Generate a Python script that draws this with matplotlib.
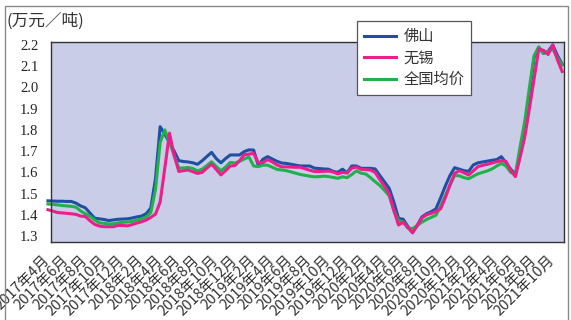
import matplotlib
matplotlib.use("Agg")
import matplotlib.pyplot as plt
from matplotlib.patches import Rectangle

plt.rcParams['font.family'] = ['Noto Sans CJK SC', 'DejaVu Sans']

# half-monthly prices, 万元/吨, starting late March 2017
foshan = [
    1.466, 1.465, 1.464, 1.464, 1.463, 1.463, 1.455, 1.442, 1.433, 1.408,
    1.384, 1.381, 1.378, 1.373, 1.376, 1.379, 1.380, 1.381, 1.385, 1.390,
    1.394, 1.405, 1.432, 1.570, 1.815, 1.780, 1.740, 1.700, 1.655, 1.651,
    1.649, 1.645, 1.638, 1.655, 1.675, 1.694, 1.665, 1.645, 1.665, 1.682,
    1.682, 1.682, 1.698, 1.706, 1.705, 1.633, 1.662, 1.674, 1.663, 1.652,
    1.644, 1.642, 1.638, 1.634, 1.630, 1.630, 1.630, 1.620, 1.618, 1.616,
    1.615, 1.605, 1.600, 1.615, 1.598, 1.630, 1.630, 1.619, 1.619, 1.619,
    1.616, 1.585, 1.555, 1.525, 1.460, 1.383, 1.379, 1.345, 1.318, 1.350,
    1.390, 1.405, 1.415, 1.428, 1.480, 1.535, 1.585, 1.622, 1.615, 1.608,
    1.605, 1.635, 1.645, 1.649, 1.653, 1.657, 1.660, 1.674, 1.645, 1.615,
    1.590, 1.690, 1.799, 1.970, 2.140, 2.190, 2.160, 2.170, 2.200, 2.150,
    2.110,
]
wuxi = [
    1.424, 1.418, 1.411, 1.409, 1.407, 1.405, 1.402, 1.394, 1.392, 1.372,
    1.355, 1.347, 1.344, 1.344, 1.344, 1.350, 1.350, 1.348, 1.354, 1.361,
    1.367, 1.375, 1.388, 1.403, 1.460, 1.620, 1.785, 1.680, 1.604, 1.608,
    1.611, 1.603, 1.595, 1.600, 1.620, 1.639, 1.614, 1.588, 1.608, 1.630,
    1.632, 1.655, 1.683, 1.686, 1.689, 1.645, 1.646, 1.660, 1.649, 1.635,
    1.626, 1.626, 1.625, 1.624, 1.624, 1.617, 1.610, 1.604, 1.604, 1.605,
    1.606, 1.602, 1.593, 1.600, 1.597, 1.620, 1.625, 1.614, 1.613, 1.611,
    1.600, 1.565, 1.535, 1.500, 1.420, 1.352, 1.365, 1.340, 1.315, 1.350,
    1.385, 1.400, 1.407, 1.415, 1.428, 1.480, 1.540, 1.595, 1.608, 1.598,
    1.588, 1.607, 1.627, 1.633, 1.638, 1.644, 1.650, 1.655, 1.652, 1.610,
    1.580, 1.670, 1.765, 1.900, 2.040, 2.180, 2.175, 2.155, 2.200, 2.130,
    2.075,
]
national = [
    1.451, 1.449, 1.447, 1.444, 1.442, 1.440, 1.436, 1.418, 1.405, 1.393,
    1.376, 1.362, 1.360, 1.357, 1.358, 1.362, 1.365, 1.366, 1.369, 1.375,
    1.381, 1.390, 1.410, 1.520, 1.740, 1.800, 1.740, 1.680, 1.619, 1.621,
    1.623, 1.618, 1.607, 1.615, 1.632, 1.650, 1.628, 1.607, 1.625, 1.647,
    1.644, 1.652, 1.663, 1.672, 1.630, 1.627, 1.634, 1.634, 1.624, 1.614,
    1.611, 1.608, 1.602, 1.596, 1.590, 1.586, 1.582, 1.579, 1.580, 1.582,
    1.580, 1.576, 1.572, 1.579, 1.575, 1.590, 1.607, 1.596, 1.592, 1.575,
    1.556, 1.538, 1.515, 1.490, 1.420, 1.372, 1.367, 1.338, 1.335, 1.350,
    1.365, 1.378, 1.388, 1.398, 1.440, 1.490, 1.540, 1.585, 1.584, 1.575,
    1.570, 1.582, 1.593, 1.600, 1.607, 1.616, 1.630, 1.642, 1.630, 1.600,
    1.590, 1.720, 1.840, 2.000, 2.150, 2.190, 2.160, 2.170, 2.180, 2.140,
    2.105,
]

month_labels = [
    "2017年4月", "2017年6月", "2017年8月", "2017年10月", "2017年12月",
    "2018年2月", "2018年4月", "2018年6月", "2018年8月", "2018年10月", "2018年12月",
    "2019年2月", "2019年4月", "2019年6月", "2019年8月", "2019年10月", "2019年12月",
    "2020年2月", "2020年4月", "2020年6月", "2020年8月", "2020年10月", "2020年12月",
    "2021年2月", "2021年4月", "2021年6月", "2021年8月", "2021年10月",
]
yticks = [1.3, 1.4, 1.5, 1.6, 1.7, 1.8, 1.9, 2.0, 2.1, 2.2]

x = list(range(len(foshan)))
tick_pos = [1 + 4 * k for k in range(len(month_labels))]

fig = plt.figure(figsize=(5.71, 3.2), dpi=100)
ax = fig.add_axes([51 / 571, 1 - 242 / 320, 513 / 571, 200 / 320])
ax.set_facecolor("#C9CDE7")

# outer frame around the whole figure
fig.patches.append(Rectangle((5 / 571, -0.1), 563 / 571, 1.1 - 6 / 320,
                             transform=fig.transFigure, fill=False,
                             edgecolor="#8a8a8a", linewidth=1))

c_fs, c_wx, c_nat = "#1F4FA3", "#EC1E8C", "#22B04B"
l1, = ax.plot(x, foshan, color=c_fs, lw=2.2, clip_on=False)
l3, = ax.plot(x, national, color=c_nat, lw=2.2, clip_on=False)
l2, = ax.plot(x, wuxi, color=c_wx, lw=2.2, clip_on=False)

ax.set_xlim(0.65, 110.4)
ax.set_ylim(1.272, 2.214)
ax.set_xticks(tick_pos)
ax.set_xticklabels(month_labels, rotation=45, ha="right", va="top",
                   fontsize=10.5, color="#333333")
ax.set_yticks(yticks)
ax.set_yticklabels([f"{v:.1f}" for v in yticks], family="Liberation Serif",
                   fontsize=10.5, color="#222222")
ax.tick_params(axis="both", length=0)
ax.tick_params(axis="x", pad=8)
ax.tick_params(axis="y", pad=9)
for s in ax.spines.values():
    s.set_color("#333333")
    s.set_linewidth(1)

fig.text(7 / 571, 1 - 21 / 320, "(万元／吨)", fontsize=12, color="#333333",
         ha="left", va="center")

leg = fig.legend([l1, l2, l3], ["佛山", "无锡", "全国均价"],
                 loc="upper left", bbox_to_anchor=(357 / 571, 1 - 21 / 320),
                 fontsize=11, frameon=True, fancybox=False, framealpha=1,
                 edgecolor="#555555", handlelength=2.1, handletextpad=0.5,
                 labelspacing=0.3, borderpad=0.45, borderaxespad=0)
leg.get_frame().set_linewidth(0.9)
for t in leg.get_texts():
    t.set_color("#333333")

fig.savefig("out.png", dpi=100)
